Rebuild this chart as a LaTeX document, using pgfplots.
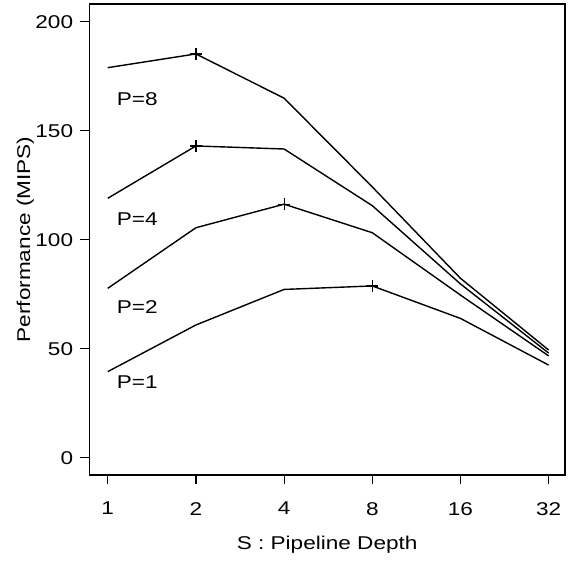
\documentclass[border=0pt]{standalone}
\usepackage{fontspec}
\setmainfont{Liberation Sans}[FakeStretch=1.22]
\usepackage{pgfplots}
\pgfplotsset{compat=1.18}
\begin{document}
\fontsize{18.5}{22}\selectfont
\begin{tikzpicture}
\begin{axis}[
  scale only axis, width=475.7pt, height=471pt,
  xmin=-0.209, xmax=5.185, ymin=-7.9, ymax=208.1,
  xtick={0,1,2,3,4,5}, xticklabels={1,2,4,8,16,32},
  ytick={0,50,100,150,200},
  xtick pos=bottom, ytick pos=left,
  tick align=outside, major tick length=9pt,
  tick style={line width=1.2pt, black},
  axis line style={line width=1.3pt},
  /pgf/number format/assume math mode=true,
  ticklabel style={font=\fontsize{18.5}{22}\selectfont, inner sep=0pt},
  yticklabel style={xshift=-7pt},
  xticklabel style={yshift=-18pt},
  xlabel={S : Pipeline Depth}, ylabel={Performance (MIPS)},
  label style={font=\fontsize{18.5}{22}\selectfont},
  xlabel style={at={(axis description cs:0.5,-0.1486)}, anchor=center},
  ylabel style={at={(axis description cs:-0.1345,0.5)}, anchor=center},
  every axis plot/.append style={black, line width=1.4pt},
]
\addplot[mark=+, mark size=6pt, mark indices={4}, mark options={line width=1.2pt}] coordinates {(0,39.5)(1,60.9)(2,77.2)(3,78.8)(4,63.9)(5,42.5)};
\addplot[mark=+, mark size=6pt, mark indices={3}, mark options={line width=1.2pt}] coordinates {(0,77.7)(1,105.5)(2,116.3)(3,103.2)(4,74.6)(5,46.7)};
\addplot[mark=+, mark size=6pt, mark indices={2}, mark options={line width=1.2pt}] coordinates {(0,119)(1,143)(2,141.6)(3,115.6)(4,79.7)(5,48)};
\addplot[mark=+, mark size=6pt, mark indices={2}, mark options={line width=1.2pt}] coordinates {(0,178.9)(1,185.2)(2,164.9)(3,124.2)(4,82.3)(5,49.4)};
\node[anchor=west, inner sep=0pt] at (axis cs:0.102,164.5) {P=8};
\node[anchor=west, inner sep=0pt] at (axis cs:0.102,109.5) {P=4};
\node[anchor=west, inner sep=0pt] at (axis cs:0.102,69.3) {P=2};
\node[anchor=west, inner sep=0pt] at (axis cs:0.102,34.9) {P=1};
\end{axis}
\pgfresetboundingbox
\path[use as bounding box] ([shift={(-89.3pt,-87pt)}]current axis.south west) rectangle ([shift={(8pt,4pt)}]current axis.north east);
\end{tikzpicture}
\end{document}
